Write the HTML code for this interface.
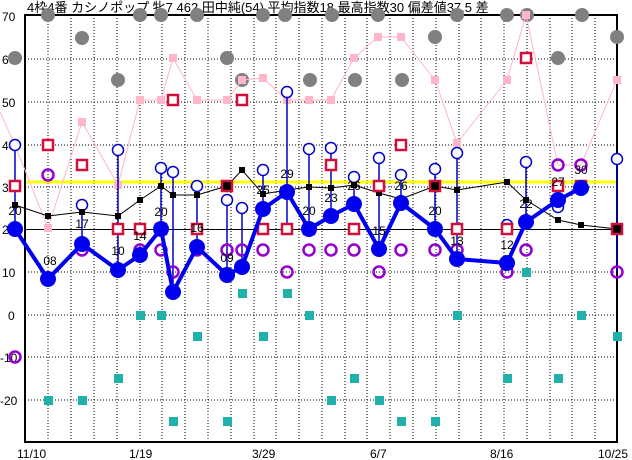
<!DOCTYPE html>
<html><head><meta charset="utf-8"><style>
body{margin:0;background:#fff;}
svg{display:block;font-family:"Liberation Sans","Noto Sans CJK JP",sans-serif;}
</style></head><body>
<svg width="632" height="460" viewBox="0 0 632 460" xmlns="http://www.w3.org/2000/svg">
<rect width="632" height="460" fill="#fff"/>
<g stroke="#000" stroke-width="1" stroke-dasharray="1,2">
<line x1="48" y1="15" x2="48" y2="442"/><line x1="71" y1="15" x2="71" y2="442"/><line x1="94" y1="15" x2="94" y2="442"/><line x1="117" y1="15" x2="117" y2="442"/><line x1="140" y1="15" x2="140" y2="442"/><line x1="162" y1="15" x2="162" y2="442"/><line x1="185" y1="15" x2="185" y2="442"/><line x1="208" y1="15" x2="208" y2="442"/><line x1="231" y1="15" x2="231" y2="442"/><line x1="254" y1="15" x2="254" y2="442"/><line x1="276" y1="15" x2="276" y2="442"/><line x1="299" y1="15" x2="299" y2="442"/><line x1="322" y1="15" x2="322" y2="442"/><line x1="345" y1="15" x2="345" y2="442"/><line x1="367" y1="15" x2="367" y2="442"/><line x1="390" y1="15" x2="390" y2="442"/><line x1="413" y1="15" x2="413" y2="442"/><line x1="436" y1="15" x2="436" y2="442"/><line x1="459" y1="15" x2="459" y2="442"/><line x1="481" y1="15" x2="481" y2="442"/><line x1="504" y1="15" x2="504" y2="442"/><line x1="527" y1="15" x2="527" y2="442"/><line x1="550" y1="15" x2="550" y2="442"/><line x1="572" y1="15" x2="572" y2="442"/><line x1="595" y1="15" x2="595" y2="442"/>
<line x1="25" y1="59" x2="617" y2="59"/><line x1="25" y1="102" x2="617" y2="102"/><line x1="25" y1="145" x2="617" y2="145"/><line x1="25" y1="187" x2="617" y2="187"/><line x1="25" y1="272" x2="617" y2="272"/><line x1="25" y1="315" x2="617" y2="315"/><line x1="25" y1="357" x2="617" y2="357"/><line x1="25" y1="400" x2="617" y2="400"/>
</g>
<line x1="25" y1="229.5" x2="617" y2="229.5" stroke="#000"/>
<line x1="25" y1="182" x2="617" y2="182" stroke="#ffff00" stroke-width="3"/>
<rect x="25" y="15" width="592" height="427" fill="none" stroke="#000" stroke-width="2"/>
<g font-size="12" fill="#000">
<text x="2" y="21">70</text><text x="2" y="64">60</text><text x="2" y="107">50</text><text x="2" y="150">40</text><text x="2" y="192">30</text><text x="2" y="234">20</text><text x="2" y="277">10</text><text x="8" y="320">0</text><text x="0" y="362">-10</text><text x="0" y="405">-20</text>
<text x="17" y="458">11/10</text><text x="129" y="458">1/19</text><text x="252" y="458">3/29</text><text x="370" y="458">6/7</text><text x="490" y="458">8/16</text><text x="598" y="458">10/25</text>
<text x="27" y="12" font-size="13">4枠4番 カシノポップ 牝7 462 田中純(54) 平均指数18 最高指数30 偏差値37.5 差</text>
</g>
<g fill="#808080">
<circle cx="15" cy="58" r="7"/><circle cx="48" cy="15" r="7"/><circle cx="82" cy="38" r="7"/><circle cx="118" cy="80" r="7"/><circle cx="140" cy="15" r="7"/><circle cx="161" cy="15" r="7"/><circle cx="197" cy="15" r="7"/><circle cx="227" cy="58" r="7"/><circle cx="242" cy="80" r="7"/><circle cx="263" cy="15" r="7"/><circle cx="285" cy="15" r="7"/><circle cx="310" cy="80" r="7"/><circle cx="332" cy="15" r="7"/><circle cx="378" cy="15" r="7"/><circle cx="355" cy="80" r="7"/><circle cx="402" cy="80" r="7"/><circle cx="435" cy="37" r="7"/><circle cx="457" cy="15" r="7"/><circle cx="507" cy="15" r="7"/><circle cx="527" cy="15" r="7"/><circle cx="558" cy="58" r="7"/><circle cx="582" cy="15" r="7"/><circle cx="617" cy="37" r="7"/>
</g>
<polyline fill="none" stroke="#ffb6c8" stroke-width="1" points="0,112 15,145 48,228 82,122 118,185 140,100 161,100 173,58 197,100 227,100 242,80 263,78 287,100 309,100 331,100 354,58 378,37 401,37 435,80 457,143 507,80 526,15 558,165 581,165 617,80"/>
<g fill="#ffb6c8"><rect x="44" y="224" width="8" height="8"/><rect x="78" y="118" width="8" height="8"/><rect x="114" y="181" width="8" height="8"/><rect x="136" y="96" width="8" height="8"/><rect x="157" y="96" width="8" height="8"/><rect x="169" y="54" width="8" height="8"/><rect x="193" y="96" width="8" height="8"/><rect x="223" y="96" width="8" height="8"/><rect x="238" y="76" width="8" height="8"/><rect x="259" y="74" width="8" height="8"/><rect x="283" y="96" width="8" height="8"/><rect x="305" y="96" width="8" height="8"/><rect x="327" y="96" width="8" height="8"/><rect x="350" y="54" width="8" height="8"/><rect x="374" y="33" width="8" height="8"/><rect x="397" y="33" width="8" height="8"/><rect x="431" y="76" width="8" height="8"/><rect x="453" y="139" width="8" height="8"/><rect x="503" y="76" width="8" height="8"/><rect x="522" y="11" width="8" height="8"/><rect x="613" y="76" width="8" height="8"/></g>
<g fill="#20b2aa"><rect x="44" y="396" width="9" height="9"/><rect x="78" y="396" width="9" height="9"/><rect x="114" y="374" width="9" height="9"/><rect x="136" y="311" width="9" height="9"/><rect x="157" y="311" width="9" height="9"/><rect x="169" y="417" width="9" height="9"/><rect x="193" y="332" width="9" height="9"/><rect x="223" y="417" width="9" height="9"/><rect x="238" y="289" width="9" height="9"/><rect x="259" y="332" width="9" height="9"/><rect x="283" y="289" width="9" height="9"/><rect x="305" y="311" width="9" height="9"/><rect x="327" y="396" width="9" height="9"/><rect x="350" y="374" width="9" height="9"/><rect x="375" y="396" width="9" height="9"/><rect x="397" y="417" width="9" height="9"/><rect x="431" y="417" width="9" height="9"/><rect x="453" y="311" width="9" height="9"/><rect x="503" y="374" width="9" height="9"/><rect x="522" y="268" width="9" height="9"/><rect x="554" y="374" width="9" height="9"/><rect x="577" y="311" width="9" height="9"/><rect x="613" y="332" width="9" height="9"/></g>
<g stroke="#0000cc" stroke-width="1.5">
<line x1="15" y1="145" x2="15" y2="229"/><line x1="118" y1="150" x2="118" y2="270"/><line x1="161" y1="168" x2="161" y2="229"/><line x1="173" y1="172" x2="173" y2="292"/><line x1="197" y1="186" x2="197" y2="247"/><line x1="227" y1="200" x2="227" y2="275"/><line x1="242" y1="208" x2="242" y2="267"/><line x1="263" y1="170" x2="263" y2="209"/><line x1="287" y1="92" x2="287" y2="229"/><line x1="309" y1="149" x2="309" y2="229"/><line x1="331" y1="148" x2="331" y2="216"/><line x1="354" y1="177" x2="354" y2="204"/><line x1="379" y1="158" x2="379" y2="249"/><line x1="401" y1="175" x2="401" y2="203"/><line x1="435" y1="169" x2="435" y2="229"/><line x1="457" y1="153" x2="457" y2="259"/><line x1="526" y1="162" x2="526" y2="222"/><line x1="617" y1="159" x2="617" y2="272"/><line x1="82" y1="205" x2="82" y2="244"/>
</g>
<g fill="#fff" stroke="#0000cc" stroke-width="1.5">
<circle cx="15" cy="145" r="5.5"/><circle cx="82" cy="205" r="5.5"/><circle cx="118" cy="150" r="5.5"/><circle cx="161" cy="168" r="5.5"/><circle cx="173" cy="172" r="5.5"/><circle cx="197" cy="186" r="5.5"/><circle cx="227" cy="200" r="5.5"/><circle cx="242" cy="208" r="5.5"/><circle cx="263" cy="170" r="5.5"/><circle cx="287" cy="92" r="5.5"/><circle cx="309" cy="149" r="5.5"/><circle cx="331" cy="148" r="5.5"/><circle cx="354" cy="177" r="5.5"/><circle cx="379" cy="158" r="5.5"/><circle cx="401" cy="175" r="5.5"/><circle cx="435" cy="169" r="5.5"/><circle cx="457" cy="153" r="5.5"/><circle cx="507" cy="225" r="5.5"/><circle cx="526" cy="162" r="5.5"/><circle cx="558" cy="207" r="5.5"/><circle cx="617" cy="159" r="5.5"/>
</g>
<polyline fill="none" stroke="#000" stroke-width="1" points="15,205 48,216 82,212 118,216 140,200 161,186 173,195 197,195 227,186 242,170 263,194 287,190 309,187 331,188 354,185 379,193 401,199 435,186 457,190 507,182 526,200 558,220 581,225 617,229"/>
<g fill="#000"><rect x="12" y="202" width="6" height="6"/><rect x="45" y="213" width="6" height="6"/><rect x="79" y="209" width="6" height="6"/><rect x="115" y="213" width="6" height="6"/><rect x="137" y="197" width="6" height="6"/><rect x="158" y="183" width="6" height="6"/><rect x="170" y="192" width="6" height="6"/><rect x="194" y="192" width="6" height="6"/><rect x="239" y="167" width="6" height="6"/><rect x="260" y="191" width="6" height="6"/><rect x="284" y="187" width="6" height="6"/><rect x="306" y="184" width="6" height="6"/><rect x="328" y="185" width="6" height="6"/><rect x="351" y="182" width="6" height="6"/><rect x="376" y="190" width="6" height="6"/><rect x="398" y="196" width="6" height="6"/><rect x="454" y="187" width="6" height="6"/><rect x="504" y="179" width="6" height="6"/><rect x="523" y="197" width="6" height="6"/><rect x="555" y="217" width="6" height="6"/><rect x="578" y="222" width="6" height="6"/></g>
<g fill="none" stroke="#9400d3" stroke-width="2.5">
<circle cx="15" cy="357" r="5.5"/><circle cx="48" cy="175" r="5.5"/><circle cx="82" cy="250" r="5.5"/><circle cx="118" cy="270" r="5.5"/><circle cx="140" cy="250" r="5.5"/><circle cx="161" cy="250" r="5.5"/><circle cx="173" cy="272" r="5.5"/><circle cx="197" cy="250" r="5.5"/><circle cx="227" cy="250" r="5.5"/><circle cx="242" cy="250" r="5.5"/><circle cx="263" cy="250" r="5.5"/><circle cx="287" cy="272" r="5.5"/><circle cx="309" cy="250" r="5.5"/><circle cx="331" cy="250" r="5.5"/><circle cx="354" cy="250" r="5.5"/><circle cx="379" cy="272" r="5.5"/><circle cx="401" cy="250" r="5.5"/><circle cx="435" cy="250" r="5.5"/><circle cx="457" cy="250" r="5.5"/><circle cx="507" cy="272" r="5.5"/><circle cx="526" cy="250" r="5.5"/><circle cx="558" cy="165" r="5.5"/><circle cx="581" cy="165" r="5.5"/><circle cx="617" cy="272" r="5.5"/>
</g>
<g fill="#fff" stroke="#d0103a" stroke-width="2.5">
<rect x="10" y="181" width="10" height="10"/><rect x="43" y="140" width="10" height="10"/><rect x="77" y="160" width="10" height="10"/><rect x="113" y="224" width="10" height="10"/><rect x="135" y="224" width="10" height="10"/><rect x="156" y="224" width="10" height="10"/><rect x="168" y="95" width="10" height="10"/><rect x="192" y="224" width="10" height="10"/><rect x="237" y="95" width="10" height="10"/><rect x="258" y="224" width="10" height="10"/><rect x="282" y="224" width="10" height="10"/><rect x="304" y="224" width="10" height="10"/><rect x="326" y="160" width="10" height="10"/><rect x="349" y="224" width="10" height="10"/><rect x="374" y="181" width="10" height="10"/><rect x="396" y="140" width="10" height="10"/><rect x="452" y="224" width="10" height="10"/><rect x="502" y="224" width="10" height="10"/><rect x="521" y="53" width="10" height="10"/><rect x="553" y="181" width="10" height="10"/><rect x="576" y="181" width="10" height="10"/>
</g>
<g fill="#000" stroke="#d0103a" stroke-width="2.5"><rect x="222" y="181" width="10" height="10"/><rect x="430" y="181" width="10" height="10"/><rect x="612" y="224" width="10" height="10"/></g>
<polyline fill="none" stroke="#0000ee" stroke-width="4" stroke-linejoin="round" points="15,229 48,279 82,244 118,270 140,255 161,229 173,292 197,247 227,275 242,267 263,209 287,192 309,229 331,216 354,204 379,249 401,203 435,229 457,259 507,263 526,222 558,200 581,188"/>
<g fill="#0000ee">
<circle cx="15" cy="229" r="8"/><circle cx="48" cy="279" r="8"/><circle cx="82" cy="244" r="8"/><circle cx="118" cy="270" r="8"/><circle cx="140" cy="255" r="8"/><circle cx="161" cy="229" r="8"/><circle cx="173" cy="292" r="8"/><circle cx="197" cy="247" r="8"/><circle cx="227" cy="275" r="8"/><circle cx="242" cy="267" r="8"/><circle cx="263" cy="209" r="8"/><circle cx="287" cy="192" r="8"/><circle cx="309" cy="229" r="8"/><circle cx="331" cy="216" r="8"/><circle cx="354" cy="204" r="8"/><circle cx="379" cy="249" r="8"/><circle cx="401" cy="203" r="8"/><circle cx="435" cy="229" r="8"/><circle cx="457" cy="259" r="8"/><circle cx="507" cy="263" r="8"/><circle cx="526" cy="222" r="8"/><circle cx="558" cy="200" r="8"/><circle cx="581" cy="188" r="8"/>
</g>
<g font-size="12" fill="#000" text-anchor="middle">
<text x="15" y="215">20</text><text x="50" y="265">08</text><text x="82" y="228">17</text><text x="118" y="255">10</text><text x="140" y="240">14</text><text x="161" y="216">20</text><text x="197" y="232">16</text><text x="227" y="262">09</text><text x="263" y="194">25</text><text x="287" y="178">29</text><text x="309" y="215">20</text><text x="331" y="202">23</text><text x="354" y="190">26</text><text x="379" y="235">15</text><text x="401" y="190">26</text><text x="435" y="215">20</text><text x="457" y="245">13</text><text x="507" y="249">12</text><text x="526" y="208">22</text><text x="558" y="186">27</text><text x="581" y="174">30</text>
</g>
</svg>
</body></html>
